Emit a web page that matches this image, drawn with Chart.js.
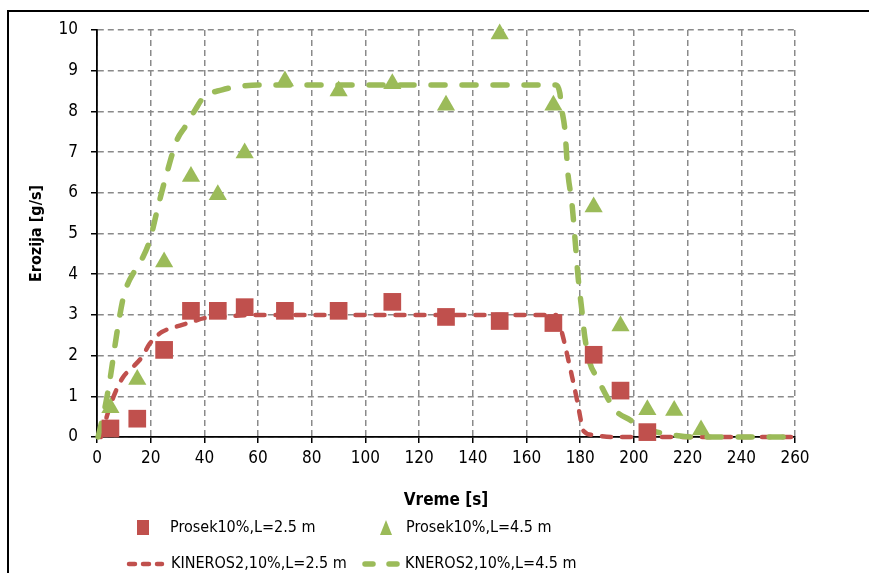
<!DOCTYPE html>
<html>
<head>
<meta charset="utf-8">
<title>Erozija</title>
<script src="https://cdn.jsdelivr.net/npm/chart.js@4/dist/chart.umd.min.js"></script>
<style>
  html, body { margin: 0; padding: 0; background: #fff; }
  #wrap { width: 869px; height: 573px; position: relative; }
</style>
</head>
<body>
<div id="wrap"><canvas id="chart" width="869" height="573"></canvas></div>
<script>
// measured points (time in s, erosion in g/s)
var timeMeas = [5, 15, 25, 35, 45, 55, 70, 90, 110, 130, 150, 170, 185, 195, 205];
var prosek25 = [0.21, 0.45, 2.14, 3.1, 3.1, 3.19, 3.1, 3.1, 3.32, 2.95, 2.85, 2.8, 2.02, 1.14, 0.12];

var timeMeas45 = [5, 15, 25, 35, 45, 55, 70, 90, 110, 130, 150, 170, 185, 195, 205, 215, 225];
var prosek45 = [0.72, 1.41, 4.3, 6.4, 5.95, 6.98, 8.75, 8.5, 8.68, 8.15, 9.9, 8.15, 5.65, 2.73, 0.67, 0.65, 0.17];

// KINEROS2 simulated hydrographs
var timeSim25 = [1.5, 4, 6.7, 9.7, 13.4, 16.8, 19.7, 24.2, 29, 34, 40, 50, 60, 80, 100, 120, 140, 160, 171, 173.2, 175, 177, 178.8, 180, 181, 184.7, 192, 210, 230, 260];
var kineros25 = [0, 0.58, 1.08, 1.47, 1.72, 1.97, 2.3, 2.58, 2.7, 2.8, 2.92, 2.97, 3.0, 3.0, 3.0, 3.0, 3.0, 3.0, 3.0, 2.56, 2.06, 1.47, 0.91, 0.49, 0.17, 0.05, 0, 0, 0, 0];

var timeSim45 = [0.4, 3, 4.8, 7.4, 9.7, 11, 14.2, 16.8, 19.7, 22.7, 26, 29.8, 32.8, 36.5, 39.5, 46.6, 52, 60, 80, 100, 120, 140, 160, 171, 172.4, 173, 174.3, 175.4, 176.9, 178, 179.2, 180.6, 181.7, 183.6, 186.2, 190, 193, 198.5, 202, 208.6, 214.5, 222, 240, 260];
var kineros45 = [0, 0.74, 1.4, 2.55, 3.4, 3.69, 4.1, 4.38, 4.84, 5.65, 6.48, 7.3, 7.62, 8.03, 8.33, 8.53, 8.6, 8.65, 8.65, 8.65, 8.65, 8.65, 8.65, 8.65, 8.45, 8.1, 7.54, 6.49, 5.75, 4.91, 3.93, 3.12, 2.46, 1.82, 1.47, 0.98, 0.66, 0.42, 0.29, 0.12, 0.05, 0, 0, 0];

var xTicks = [0, 20, 40, 60, 80, 100, 120, 140, 160, 180, 200, 220, 240, 260];
var yTicks = [0, 1, 2, 3, 4, 5, 6, 7, 8, 9, 10];

var RED = '#C0504D';
var GREEN = '#9BBB59';
var FONT = '"Liberation Sans Narrow", "DejaVu Sans Condensed", "Open Sans", sans-serif';

function pts(xs, ys) {
  var out = [];
  for (var i = 0; i < xs.length; i++) out.push({x: xs[i], y: ys[i]});
  return out;
}

// legend drawn underneath the plot, two columns
var bottomLegend = {
  id: 'bottomLegend',
  afterDraw: function(chart) {
    var ctx = chart.ctx;
    var ds = chart.data.datasets;
    ctx.save();

    // frame around the whole chart (right side runs off the page)
    ctx.strokeStyle = '#000';
    ctx.lineWidth = 2;
    ctx.strokeRect(8, 11, 900, 600);

    var items = [
      {ds: ds[0], kind: 'rect', mx: 143, tx: 170, y: 528},
      {ds: ds[1], kind: 'tri', mx: 386, tx: 406, y: 528},
      {ds: ds[2], kind: 'line', mx: 129, mx2: 162, tx: 171, y: 564},
      {ds: ds[3], kind: 'line', mx: 365, mx2: 397, tx: 405, y: 564}
    ];
    items.forEach(function(it) {
      var d = it.ds;
      if (it.kind === 'rect') {
        ctx.fillStyle = d.backgroundColor;
        ctx.fillRect(it.mx - 6, it.y - 8, 12, 15);
      } else if (it.kind === 'tri') {
        ctx.fillStyle = d.backgroundColor;
        ctx.beginPath();
        ctx.moveTo(it.mx, it.y - 8);
        ctx.lineTo(it.mx + 6, it.y + 7);
        ctx.lineTo(it.mx - 6, it.y + 7);
        ctx.closePath();
        ctx.fill();
      } else {
        ctx.strokeStyle = d.borderColor;
        ctx.lineWidth = d.borderWidth;
        ctx.lineCap = 'round';
        ctx.setLineDash(it.ds === ds[2] ? [6, 8] : [8, 16]);
        ctx.beginPath();
        ctx.moveTo(it.mx, it.y);
        ctx.lineTo(it.mx2, it.y);
        ctx.stroke();
        ctx.setLineDash([]);
      }
      ctx.fillStyle = '#000';
      ctx.font = '16px ' + FONT;
      ctx.textBaseline = 'middle';
      ctx.textAlign = 'left';
      ctx.fillText(d.label, it.tx, it.y);
    });
    ctx.restore();
  }
};

var ctx = document.getElementById('chart').getContext('2d');

var gridOpts = {
  color: '#8a8a8a',
  lineWidth: 1.5,
  tickColor: '#000',
  tickLength: 6,
  tickWidth: 1.5,
  tickBorderDash: []
};

var chart = new Chart(ctx, {
  type: 'scatter',
  data: {
    datasets: [
      {
        label: 'Prosek10%,L=2.5 m',
        data: pts(timeMeas, prosek25),
        pointStyle: 'rect',
        pointRadius: 12.5,
        backgroundColor: RED,
        borderColor: RED,
        borderWidth: 0,
        showLine: false,
        order: 1
      },
      {
        label: 'Prosek10%,L=4.5 m',
        data: pts(timeMeas45, prosek45),
        pointStyle: 'triangle',
        pointRadius: 10.5,
        backgroundColor: GREEN,
        borderColor: GREEN,
        borderWidth: 0,
        showLine: false,
        order: 0
      },
      {
        label: 'KINEROS2,10%,L=2.5 m',
        data: pts(timeSim25, kineros25),
        showLine: true,
        pointRadius: 0,
        borderColor: RED,
        backgroundColor: RED,
        borderWidth: 4.5,
        borderDash: [9, 11],
        borderCapStyle: 'round',
        cubicInterpolationMode: 'monotone',
        order: 3
      },
      {
        label: 'KNEROS2,10%,L=4.5 m',
        data: pts(timeSim45, kineros45),
        showLine: true,
        pointRadius: 0,
        borderColor: GREEN,
        backgroundColor: GREEN,
        borderWidth: 5.5,
        borderDash: [14, 17],
        borderCapStyle: 'round',
        cubicInterpolationMode: 'monotone',
        order: 2
      }
    ]
  },
  options: {
    responsive: false,
    animation: false,
    clip: false,
    layout: { padding: { top: 30, right: 74, left: 0, bottom: 0 } },
    plugins: {
      legend: { display: false },
      tooltip: { enabled: false }
    },
    scales: {
      x: {
        type: 'linear',
        min: 0,
        max: 260,
        afterBuildTicks: function(scale) {
          scale.ticks = xTicks.map(function(v) { return {value: v}; });
        },
        afterFit: function(scale) { scale.height = 136; },
        grid: gridOpts,
        border: { color: '#000', width: 1.8, dash: [6, 4] },
        ticks: {
          color: '#000',
          padding: 5,
          maxRotation: 0,
          font: { family: FONT, size: 17 }
        },
        title: {
          display: true,
          text: 'Vreme [s]',
          color: '#000',
          font: { family: FONT, size: 17, weight: 'bold' },
          padding: { top: 0, bottom: 62 }
        }
      },
      y: {
        type: 'linear',
        min: 0,
        max: 10,
        afterBuildTicks: function(scale) {
          scale.ticks = yTicks.map(function(v) { return {value: v}; });
        },
        afterFit: function(scale) { scale.width = 97; },
        grid: gridOpts,
        border: { color: '#000', width: 1.8, dash: [6, 4] },
        ticks: {
          color: '#000',
          padding: 13,
          font: { family: FONT, size: 17 }
        },
        title: {
          display: true,
          text: 'Erozija [g/s]',
          color: '#000',
          font: { family: FONT, size: 16, weight: 'bold' },
          padding: { top: 27, bottom: 0 }
        }
      }
    }
  },
  plugins: [bottomLegend]
});
</script>
</body>
</html>
